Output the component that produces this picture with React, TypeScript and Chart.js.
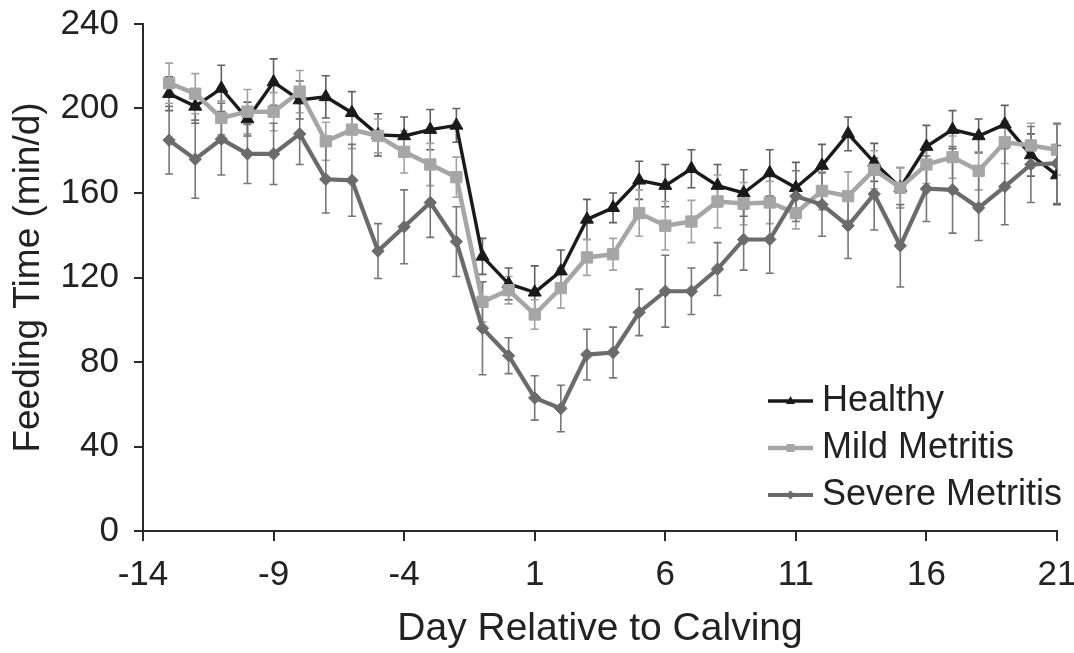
import React, { useEffect, useRef } from "react";
import { Chart, registerables } from "chart.js";

Chart.register(...registerables);

// ---------- data ----------
const days = [
  -13, -12, -11, -10, -9, -8, -7, -6, -5, -4, -3, -2, -1, 0, 1, 2, 3, 4, 5, 6, 7,
  8, 9, 10, 11, 12, 13, 14, 15, 16, 17, 18, 19, 20, 21,
];

const healthy = [
  207, 201, 209.5, 195, 212.5, 204, 205.5, 198, 187.5, 187, 190, 192, 130, 117,
  113, 123, 147.5, 153, 166, 163.5, 171.5, 163.5, 160, 169.5, 162.5, 173, 188,
  174.5, 162.5, 182, 190, 187, 192.5, 178, 168.5,
];
const healthySE = [
  8, 8, 11, 8, 11, 9, 10, 10, 10, 9, 9.5, 8, 8.5, 7.5, 12.5, 10, 9.5, 7, 9, 10,
  9, 10, 11, 11, 12, 10, 8, 9, 9.5, 10, 9, 8, 9, 10, 14,
];

const mild = [
  212, 207, 195.5, 198.5, 198.5, 208, 184.5, 190, 187, 179.5, 173.5, 167.5,
  108.5, 114, 102.5, 115, 129.5, 131, 150.5, 144.5, 146.5, 156, 155, 155.5,
  150.5, 161, 158.5, 171, 162.5, 173.5, 177, 170.5, 184, 182.5, 180.5,
];
const mildSE = [
  9.5, 9.5, 8, 10.5, 9, 10, 9, 9, 8, 10, 10, 9.5, 9.5, 6.5, 7, 9.5, 8.5, 7.5,
  11, 11.5, 10, 12.5, 10, 10, 7.5, 9, 11.5, 9, 9.5, 9, 10, 9, 10, 10.5, 12,
];

const severe = [
  185, 176, 185.5, 178.5, 178.5, 188, 166.5, 166, 132.5, 144, 155.5, 137, 96,
  83, 63, 58, 83.5, 84.5, 103.5, 113.5, 113.5, 124, 138, 138, 158.5, 154.5,
  144.5, 159.5, 135, 162, 161.5, 153, 163, 173.5, 174,
];
const severeSE = [
  16, 18.5, 17, 14, 14.5, 14.5, 16, 17, 13, 17.5, 16.5, 16.5, 22, 8.5, 10.5, 11,
  12, 12, 11, 17, 11, 12.5, 14.5, 16, 12, 15, 15.5, 17, 19.5, 15.5, 20.5, 15.5,
  18, 18, 19,
];

const seriesNames = ["Healthy", "Mild Metritis", "Severe Metritis"];
const xTicks = [-14, -9, -4, 1, 6, 11, 16, 21];
const yTicks = [0, 40, 80, 120, 160, 200, 240];

// ---------- styles ----------
const FONT = "'Liberation Sans', Arial, Helvetica, sans-serif";
const TEXT = "#222222";
const AXIS = "#2b2b2b";
const lineColors = ["#1a1a1a", "#a6a6a6", "#6b6b6b"];
const errColors = ["#606060", "#a3a3a3", "#777777"];
const pointStyles = ["triangle", "rect", "rectRot"];
const pointRadii = [7.5, 8, 6.2];
const lineWidths = [3.4, 4.5, 4.2];

const seriesValues = [healthy, mild, severe];
const seriesErrors = [healthySE, mildSE, severeSE];

const errorBarPlugin = {
  id: "errorBars",
  beforeDatasetsDraw(chart: any) {
    const { ctx } = chart;
    const x = chart.scales.x;
    const y = chart.scales.y;
    ctx.save();
    ctx.lineWidth = 1.6;
    for (let s = 0; s < seriesValues.length; s++) {
      const vals = seriesValues[s];
      const errs = seriesErrors[s];
      ctx.strokeStyle = errColors[s];
      ctx.beginPath();
      for (let i = 0; i < days.length; i++) {
        const px = x.getPixelForValue(days[i]);
        const top = y.getPixelForValue(vals[i] + errs[i]);
        const bot = y.getPixelForValue(vals[i] - errs[i]);
        const cap = 4;
        ctx.moveTo(px, top);
        ctx.lineTo(px, bot);
        ctx.moveTo(px - cap, top);
        ctx.lineTo(px + cap, top);
        ctx.moveTo(px - cap, bot);
        ctx.lineTo(px + cap, bot);
      }
      ctx.stroke();
    }
    ctx.restore();
  },
};

const legendPlugin = {
  id: "insideLegend",
  afterDraw(chart: any) {
    const { ctx, chartArea } = chart;
    const x0 = chartArea.right - 289;
    const x1 = x0 + 45;
    const tx = x0 + 54;
    const rows = [chartArea.bottom - 130, chartArea.bottom - 83, chartArea.bottom - 36];
    ctx.save();
    for (let s = 0; s < seriesNames.length; s++) {
      const yy = rows[s];
      ctx.strokeStyle = lineColors[s];
      ctx.lineWidth = lineWidths[s];
      ctx.beginPath();
      ctx.moveTo(x0, yy);
      ctx.lineTo(x1, yy);
      ctx.stroke();
      const cx = (x0 + x1) / 2;
      ctx.fillStyle = lineColors[s];
      ctx.beginPath();
      if (s === 0) {
        ctx.moveTo(cx, yy - 5);
        ctx.lineTo(cx + 4.5, yy + 3);
        ctx.lineTo(cx - 4.5, yy + 3);
      } else if (s === 1) {
        ctx.rect(cx - 4, yy - 4, 8, 8);
      } else {
        ctx.moveTo(cx, yy - 4.5);
        ctx.lineTo(cx + 4.5, yy);
        ctx.lineTo(cx, yy + 4.5);
        ctx.lineTo(cx - 4.5, yy);
      }
      ctx.closePath();
      ctx.fill();
      ctx.fillStyle = TEXT;
      ctx.font = `36px ${FONT}`;
      ctx.textAlign = "left";
      ctx.textBaseline = "middle";
      ctx.fillText(seriesNames[s], tx, yy);
    }
    ctx.restore();
  },
};

export default function App() {
  const canvasRef = useRef<HTMLCanvasElement | null>(null);

  useEffect(() => {
    document.body.style.margin = "0";
    const canvas = canvasRef.current;
    if (!canvas) return;

    const datasets = seriesNames.map((name, s) => ({
      label: name,
      data: days.map((d, i) => ({ x: d, y: seriesValues[s][i] })),
      borderColor: lineColors[s],
      backgroundColor: lineColors[s],
      pointBackgroundColor: lineColors[s],
      pointBorderColor: lineColors[s],
      pointBorderWidth: 1,
      pointStyle: pointStyles[s],
      pointRadius: pointRadii[s],
      borderWidth: lineWidths[s],
      tension: 0,
      order: 3 - s,
    }));

    const chart = new Chart(canvas, {
      type: "line",
      data: { datasets },
      plugins: [errorBarPlugin, legendPlugin],
      options: {
        responsive: false,
        animation: false,
        maintainAspectRatio: false,
        layout: { padding: { top: 24, right: 17, bottom: 0, left: 0 } },
        plugins: {
          legend: { display: false },
          tooltip: { enabled: false },
        },
        scales: {
          x: {
            type: "linear",
            min: -14,
            max: 21,
            afterBuildTicks: (s: any) => {
              s.ticks = xTicks.map((v) => ({ value: v }));
            },
            afterFit: (s: any) => {
              s.height = 122;
              s.paddingLeft = 0;
              s.paddingRight = 0;
            },
            border: { display: true, color: AXIS, width: 2 },
            grid: {
              drawOnChartArea: false,
              drawTicks: true,
              tickLength: 10,
              color: AXIS,
              lineWidth: 2,
            },
            ticks: {
              color: TEXT,
              font: { family: FONT, size: 35 },
              padding: 13,
              maxRotation: 0,
              autoSkip: false,
            },
            title: {
              display: true,
              text: "Day Relative to Calving",
              color: TEXT,
              font: { family: FONT, size: 39 },
              padding: { top: 0, bottom: 0 },
            },
          },
          y: {
            min: 0,
            max: 240,
            afterBuildTicks: (s: any) => {
              s.ticks = yTicks.map((v) => ({ value: v }));
            },
            afterFit: (s: any) => {
              s.width = 143;
              s.paddingTop = 0;
              s.paddingBottom = 0;
            },
            border: { display: true, color: AXIS, width: 2 },
            grid: {
              drawOnChartArea: false,
              drawTicks: true,
              tickLength: 9,
              color: AXIS,
              lineWidth: 2,
            },
            ticks: {
              color: TEXT,
              font: { family: FONT, size: 35 },
              padding: 15,
            },
            title: {
              display: true,
              text: "Feeding Time (min/d)",
              color: TEXT,
              font: { family: FONT, size: 37 },
              padding: { top: 7, bottom: 0 },
            },
          },
        },
      },
    } as any);

    return () => {
      chart.destroy();
    };
  }, []);

  return (
    <div style={{ width: 1074, height: 653 }}>
      <canvas ref={canvasRef} width={1074} height={653} />
    </div>
  );
}
